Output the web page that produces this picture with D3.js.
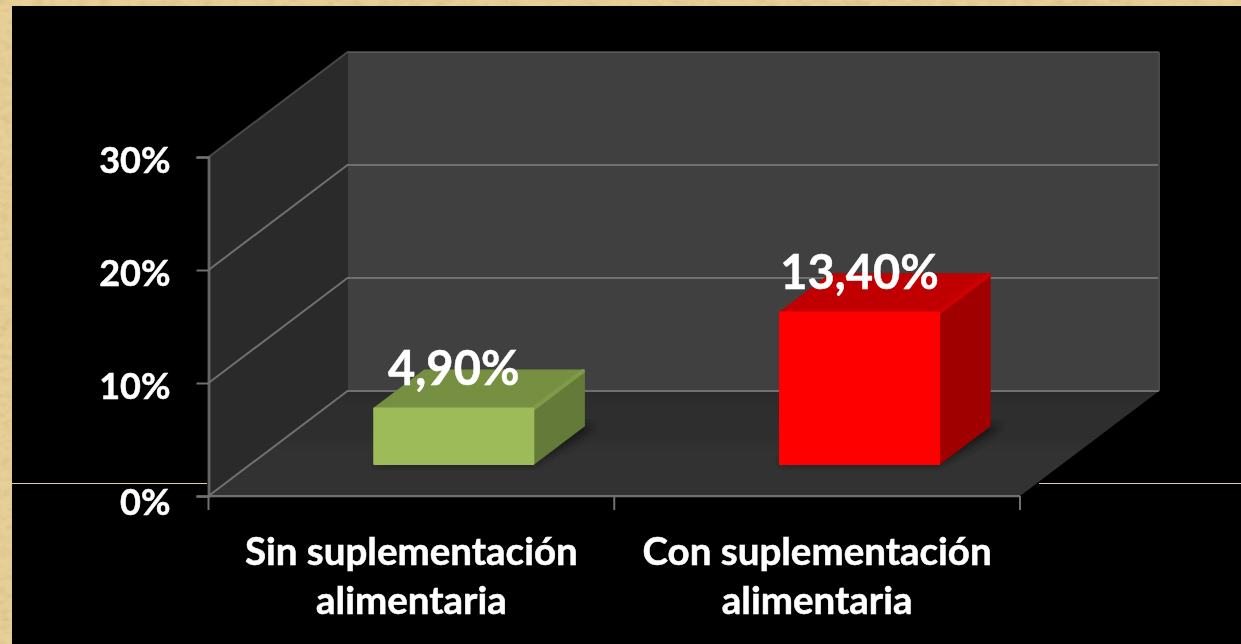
<!DOCTYPE html>
<html>
<head>
<meta charset="utf-8">
<script src="https://cdn.jsdelivr.net/npm/d3@7"></script>
<style>
  html, body { margin: 0; padding: 0; background: #000; overflow: hidden; }
  text { font-family: Lato, "Open Sans", sans-serif; font-weight: 700; fill: #fff; stroke: #fff; stroke-width: 0.5px; }
</style>
</head>
<body>
<script>
// data
const categories = ["Sin suplementación alimentaria", "Con suplementación alimentaria"];
const values = [4.9, 13.4];
const value_labels = ["4,90%", "13,40%"];
const y_ticks = [0, 10, 20, 30];

// colors
const bar_front = ["#9dbb59", "#ff0000"];
const bar_top = ["#768f40", "#c00000"];
const bar_side = ["#647a38", "#a00000"];
const bar_edge = ["#809b47", "#cf0000"];
const color_tan = "#e7cf98";
const color_line = "#707070";

const width = 1241;
const height = 644;

// front plane of the 3d box + how far back the depth goes
const x = d3.scaleBand().domain(categories).range([208.5, 1020]);
const y = d3.scaleLinear().domain([0, 30]).range([496, 157]);
const depth_x = 139;
const depth_y = -105;
// bar occupies this part of the depth
const bar_z0 = 0.305;
const bar_z1 = 0.669;
// bar width inside its band
const bar_inner = 0.392;

// front plane point -> screen
function pt(px, v, z) {
  return [px + z * depth_x, y(v) + z * depth_y];
}
function poly(points) {
  return points.map((p) => p.join(",")).join(" ");
}

let svg = d3
  .select("body")
  .append("svg")
  .attr("width", width)
  .attr("height", height)
  .style("display", "block");

let defs = svg.append("defs");

// parchment look for the slide border
let paper = defs.append("filter").attr("id", "paper").attr("x", 0).attr("y", 0).attr("width", "100%").attr("height", "100%");
paper.append("feTurbulence").attr("type", "fractalNoise").attr("baseFrequency", "0.09 0.16").attr("numOctaves", 3).attr("seed", 4).attr("result", "n");
paper.append("feColorMatrix").attr("in", "n").attr("type", "matrix")
  .attr("values", "0 0 0 0 0.62  0 0 0 0 0.47  0 0 0 0 0.22  1.2 0 0 0 -0.47").attr("result", "c");
paper.append("feMerge").call((m) => {
  m.append("feMergeNode").attr("in", "SourceGraphic");
  m.append("feMergeNode").attr("in", "c");
});

defs.append("filter").attr("id", "soft").attr("x", "-5%").attr("y", "-5%").attr("width", "110%").attr("height", "110%")
  .append("feGaussianBlur").attr("stdDeviation", 0.7);
defs.append("filter").attr("id", "softtext").attr("x", "-5%").attr("y", "-5%").attr("width", "110%").attr("height", "110%")
  .append("feGaussianBlur").attr("stdDeviation", 0.4);
defs.append("filter").attr("id", "shadow").attr("x", "-30%").attr("y", "-30%").attr("width", "160%").attr("height", "160%")
  .append("feGaussianBlur").attr("stdDeviation", 5);

let floor_grad = defs.append("linearGradient").attr("id", "floor").attr("x1", 0).attr("y1", 0).attr("x2", 0).attr("y2", 1);
floor_grad.append("stop").attr("offset", 0).attr("stop-color", "#2c2c2c");
floor_grad.append("stop").attr("offset", 1).attr("stop-color", "#333333");

// background
svg.append("rect").attr("width", width).attr("height", height).attr("fill", color_tan).attr("filter", "url(#paper)");
svg.append("rect").attr("x", 12).attr("y", 6).attr("width", width - 12).attr("height", height - 6).attr("fill", "#000");
svg.append("line").attr("x1", 12).attr("x2", 207).attr("y1", 483.5).attr("y2", 483.5).attr("stroke", color_tan);
svg.append("line").attr("x1", 1039).attr("x2", width).attr("y1", 483.5).attr("y2", 483.5).attr("stroke", color_tan);

let chart = svg.append("g").attr("filter", "url(#soft)");

const x0 = x.range()[0];
const x1 = x.range()[1];
const y_min = y_ticks[0];
const y_max = y_ticks[y_ticks.length - 1];

// walls + floor
chart.append("polygon")
  .attr("points", poly([pt(x0, y_min, 0), pt(x0, y_max, 0), pt(x0, y_max, 1), pt(x0, y_min, 1)]))
  .attr("fill", "#2a2a2a");
chart.append("polygon")
  .attr("points", poly([pt(x0, y_min, 1), pt(x0, y_max, 1), pt(x1, y_max, 1), pt(x1, y_min, 1)]))
  .attr("fill", "#404040");
chart.append("polygon")
  .attr("points", poly([pt(x0, y_min, 0), pt(x1, y_min, 0), pt(x1, y_min, 1), pt(x0, y_min, 1)]))
  .attr("fill", "url(#floor)");

// grid lines: left wall then back wall
chart.selectAll(".grid")
  .data(y_ticks)
  .enter()
  .append("polyline")
  .attr("class", "grid")
  .attr("fill", "none")
  .attr("stroke", color_line)
  .attr("stroke-width", 2)
  .attr("stroke-opacity", (d) => (d === y_max ? 0.55 : 1))
  .attr("points", (d) => poly([pt(x0, d, 0), pt(x0, d, 1), pt(x1, d, 1)]));

// back wall right edge
chart.append("line")
  .attr("x1", pt(x1, y_min, 1)[0]).attr("y1", pt(x1, y_min, 1)[1])
  .attr("x2", pt(x1, y_max, 1)[0]).attr("y2", pt(x1, y_max, 1)[1])
  .attr("stroke", "#4a4a4a").attr("stroke-width", 2);

// bars
categories.forEach(function (c, i) {
  let inset = (x.bandwidth() * (1 - bar_inner)) / 2;
  let left = x(c) + inset;
  let right = x(c) + x.bandwidth() - inset;
  let v = values[i];
  let bar = chart.append("g").attr("class", "bar");

  // shadow on the floor
  bar.append("polygon")
    .attr("points", poly([pt(left - 4, 0, bar_z0), pt(right, 0, bar_z0), pt(right + 14, 0, bar_z1), pt(left + 60, 0, bar_z1)]))
    .attr("fill", "#000")
    .attr("fill-opacity", 0.55)
    .attr("filter", "url(#shadow)");

  bar.append("polygon")
    .attr("points", poly([pt(right, 0, bar_z0), pt(right, v, bar_z0), pt(right, v, bar_z1), pt(right, 0, bar_z1)]))
    .attr("fill", bar_side[i])
    .attr("stroke", bar_side[i])
    .attr("stroke-width", 2)
    .attr("stroke-linejoin", "round");
  bar.append("polygon")
    .attr("points", poly([pt(left, v, bar_z0), pt(right, v, bar_z0), pt(right, v, bar_z1), pt(left, v, bar_z1)]))
    .attr("fill", bar_top[i])
    .attr("stroke", bar_top[i])
    .attr("stroke-width", 2)
    .attr("stroke-linejoin", "round");
  // lighter bevel on the top right edge
  bar.append("line")
    .attr("x1", pt(right, v, bar_z0)[0]).attr("y1", pt(right, v, bar_z0)[1])
    .attr("x2", pt(right, v, bar_z1)[0]).attr("y2", pt(right, v, bar_z1)[1])
    .attr("stroke", bar_edge[i]).attr("stroke-width", 4);
  bar.append("polygon")
    .attr("points", poly([pt(left, 0, bar_z0), pt(left, v, bar_z0), pt(right, v, bar_z0), pt(right, 0, bar_z0)]))
    .attr("fill", bar_front[i])
    .attr("stroke", bar_front[i])
    .attr("stroke-width", 2)
    .attr("stroke-linejoin", "round");
});

// axes
let y_axis = d3.axisLeft(y)
  .tickValues(y_ticks)
  .tickFormat((d) => d + "%")
  .tickSize(12)
  .tickPadding(26);
let y_g = svg.append("g").attr("transform", `translate(${x0},0)`).attr("filter", "url(#softtext)").call(y_axis);
y_g.select(".domain").attr("stroke", color_line).attr("stroke-width", 2.5);
y_g.selectAll(".tick line").attr("stroke", color_line).attr("stroke-width", 2);
y_g.selectAll(".tick text")
  .attr("font-size", 36)
  .attr("dy", (d) => (d === 0 ? 18 : 15))
  .style("font-family", "Lato")
  .attr("fill", "#fff");

// bottom axis line + ticks on the band edges
let axis_x = svg.append("g").attr("class", "x-axis").attr("filter", "url(#softtext)");
axis_x.append("line")
  .attr("x1", x0).attr("x2", x1).attr("y1", y(0)).attr("y2", y(0))
  .attr("stroke", color_line).attr("stroke-width", 2.5);
axis_x.selectAll(".edge")
  .data([x0, x(categories[1]), x1])
  .enter()
  .append("line")
  .attr("class", "edge")
  .attr("x1", (d) => d).attr("x2", (d) => d)
  .attr("y1", y(0)).attr("y2", y(0) + 14)
  .attr("stroke", color_line).attr("stroke-width", 2);

// category labels, two lines each
let cat = svg.append("g").attr("filter", "url(#softtext)");
categories.forEach(function (c) {
  let cut = c.lastIndexOf(" ");
  let t = cat.append("text")
    .attr("text-anchor", "middle")
    .attr("font-size", 38.5)
    .attr("y", y(0) + 69);
  t.append("tspan").attr("x", x(c) + x.bandwidth() / 2).text(c.slice(0, cut));
  t.append("tspan").attr("x", x(c) + x.bandwidth() / 2).attr("dy", 49).text(c.slice(cut + 1));
});

// value labels
let lab = svg.append("g").attr("filter", "url(#softtext)");
categories.forEach(function (c, i) {
  let p = pt(x(c) + x.bandwidth() / 2, values[i], bar_z0);
  lab.append("text")
    .attr("x", p[0])
    .attr("y", p[1] - 24)
    .attr("text-anchor", "middle")
    .attr("font-size", 47)
    .text(value_labels[i]);
});
</script>
</body>
</html>
